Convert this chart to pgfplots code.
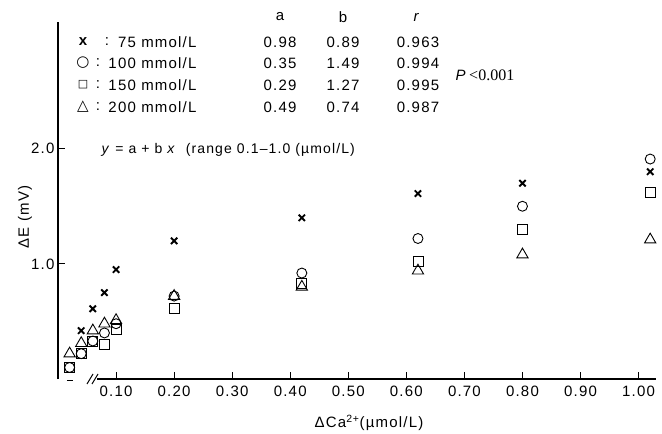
\documentclass[border=0pt]{standalone}
\usepackage{fontspec}
\setmainfont{Liberation Sans}[LetterSpace=8]
\newfontfamily\timesf{Liberation Serif}
\newfontfamily\symf{DejaVu Sans}
\usepackage{pgfplots}
\pgfplotsset{compat=1.18}
\begin{document}
\begin{tikzpicture}[font=\fontsize{15}{17}\selectfont]
\path[use as bounding box] (-58pt,-55pt) rectangle (604pt,379pt);
\begin{axis}[
  at={(0,0)}, anchor=south west,
  scale only axis, width=598pt, height=357pt,
  xmin=0, xmax=1.03, ymin=0, ymax=3.1,
  axis x line*=bottom, axis y line*=left,
  x axis line style={draw=none},
  y axis line style={line width=1.2pt},
  clip=false,
  xtick={0.1,0.2,0.3,0.4,0.5,0.6,0.7,0.8,0.9,1.0},
  xticklabels={0.10,0.20,0.30,0.40,0.50,0.60,0.70,0.80,0.90,1.00},
  ytick={1,2}, yticklabels={1.0,2.0},
  tick align=inside, major tick length=7pt,
  tick style={line width=0.8pt, black},
  ticklabel style={font=\fontsize{15}{17}\selectfont},
  xticklabel style={yshift=-3pt},
  /pgf/number format/assume math mode=true,
]
\addplot[only marks, mark=x, mark size=4.5pt, mark options={line width=1.9pt}] coordinates {
 (0.04,0.42) (0.06,0.61) (0.08,0.75) (0.10,0.95) (0.20,1.20) (0.42,1.40) (0.62,1.61) (0.80,1.70) (1.02,1.80)};
\addplot[only marks, mark=o, mark size=5pt, mark options={line width=0.9pt}] coordinates {
 (0.02,0.10) (0.04,0.22) (0.06,0.33) (0.08,0.40) (0.10,0.48) (0.20,0.72) (0.42,0.92) (0.62,1.22) (0.80,1.50) (1.02,1.91)};
\addplot[only marks, mark=square, mark size=5pt, mark options={line width=0.9pt}] coordinates {
 (0.02,0.10) (0.04,0.22) (0.06,0.33) (0.08,0.30) (0.10,0.43) (0.20,0.61) (0.42,0.83) (0.62,1.02) (0.80,1.30) (1.02,1.62)};
\addplot[only marks, mark=triangle, mark size=6.5pt, mark options={line width=0.9pt}] coordinates {
 (0.02,0.22) (0.04,0.31) (0.06,0.42) (0.08,0.48) (0.10,0.51) (0.20,0.72) (0.42,0.80) (0.62,0.94) (0.80,1.08) (1.02,1.21)};
\end{axis}
% x axis line with break
\draw[line width=1.2pt] (39pt,0) -- (598pt,0);
\draw[line width=1pt] (29pt,-5pt) -- (35pt,5pt);
\draw[line width=1pt] (34pt,-5pt) -- (40pt,5pt);
\draw[line width=1pt] (9pt,-2pt) -- (15pt,-2pt);
% labels
\node[rotate=90] at (-33pt,162pt) {ΔE (mV)};
\node at (311pt,-44pt) {ΔCa\textsuperscript{2+}(µmol/L)};
% table
\node at (222pt,362pt) {a};
\node at (285pt,362pt) {b};
\node at (359pt,362pt) {\textit{r}};
\node at (25pt,337pt) {\bfseries x};
\node at (49pt,337pt) {:};
\node[anchor=east] at (142pt,337pt) {75 mmol/L};
\node at (25pt,316pt) {\symf ○};
\node at (40pt,316pt) {:};
\node[anchor=east] at (142pt,316pt) {100 mmol/L};
\node at (25pt,294pt) {\symf\fontsize{11}{12}\selectfont □};
\node at (40pt,294pt) {:};
\node[anchor=east] at (142pt,294pt) {150 mmol/L};
\node at (25pt,272pt) {\symf △};
\node at (40pt,272pt) {:};
\node[anchor=east] at (142pt,272pt) {200 mmol/L};
\node at (222pt,337pt) {0.98};
\node at (285pt,337pt) {0.89};
\node at (360pt,337pt) {0.963};
\node at (222pt,316pt) {0.35};
\node at (285pt,316pt) {1.49};
\node at (360pt,316pt) {0.994};
\node at (222pt,294pt) {0.29};
\node at (285pt,294pt) {1.27};
\node at (360pt,294pt) {0.995};
\node at (222pt,272pt) {0.49};
\node at (285pt,272pt) {0.74};
\node at (360pt,272pt) {0.987};
\node[anchor=west] at (394pt,304pt) {\textit{P}\,{\timesf\fontsize{16}{18}\selectfont <0.001}};
\node[anchor=west, font=\fontsize{14}{16}\selectfont] at (40pt,229pt) {\textit{y} = a + b \textit{x} \ (range 0.1–1.0 (µmol/L)};
\end{tikzpicture}
\end{document}
